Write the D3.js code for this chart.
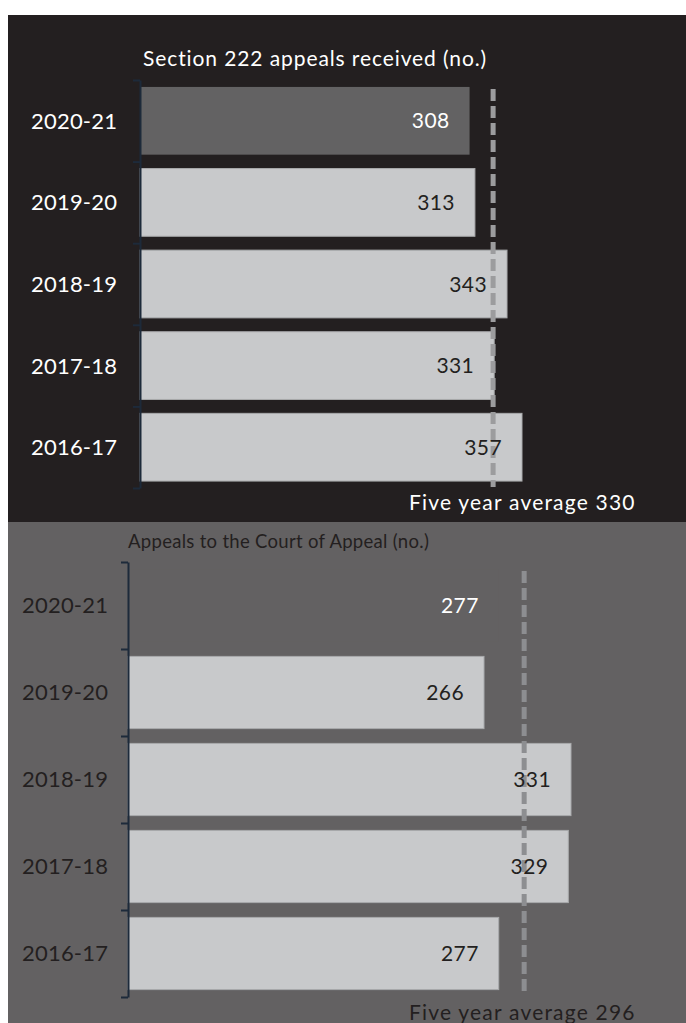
<!DOCTYPE html>
<html>
<head>
<meta charset="utf-8">
<script src="https://cdn.jsdelivr.net/npm/d3@7"></script>
<style>
  html, body { margin: 0; padding: 0; background: #ffffff; }
  svg { display: block; }
  text { font-family: Lato, "Noto Sans", sans-serif; }
</style>
</head>
<body>
<svg id="chart" width="686" height="1023"></svg>
<script>
// Financial years, most recent first
const years = ["2020-21", "2019-20", "2018-19", "2017-18", "2016-17"];
// Section 222 appeals received (no.)
const section222 = [308, 313, 343, 331, 357];
// Appeals to the Court of Appeal (no.)
const courtOfAppeal = [277, 266, 331, 329, 277];
// Five year averages for each panel
const averages = [330, 296];
const titles = ["Section 222 appeals received (no.)", "Appeals to the Court of Appeal (no.)"];

const svg = d3.select("#chart");

const panels = [
  {
    values: section222, avg: averages[0], title: titles[0],
    box: [8, 15, 678, 507],
    bg: "#231f20", firstBar: "#636263", bar: "#c8c9cb",
    yearColor: "#ffffff", titleColor: "#ffffff", avgColor: "#ffffff",
    firstValueColor: "#ffffff", valueColor: "#231f20",
    dashColor: "#9c9c9e",
    xRange: [140, 522], yRange: [80, 488], yearX: 31,
    titleX: 143, titleY: 66, titleSize: 21, titleSpacing: 0.9, avgY: 510
  },
  {
    values: courtOfAppeal, avg: averages[1], title: titles[1],
    box: [8, 522, 678, 501],
    bg: "#636162", firstBar: "#636162", bar: "#c8c9cb",
    yearColor: "#231f20", titleColor: "#231f20", avgColor: "#231f20",
    firstValueColor: "#ffffff", valueColor: "#231f20",
    dashColor: "#8d8e91",
    xRange: [128, 571], yRange: [562, 997], yearX: 22,
    titleX: 128, titleY: 548, titleSize: 18.5, titleSpacing: 0.3, avgY: 1020
  }
];

panels.forEach(p => {
  const g = svg.append("g");
  g.append("rect")
    .attr("x", p.box[0]).attr("y", p.box[1])
    .attr("width", p.box[2]).attr("height", p.box[3])
    .attr("fill", p.bg);

  const x = d3.scaleLinear().domain([0, d3.max(p.values)]).range(p.xRange);
  const y = d3.scaleBand().domain(years).range(p.yRange)
    .paddingInner(0.17).paddingOuter(0.085);

  // bars
  g.selectAll("rect.bar").data(p.values).join("rect")
    .attr("class", "bar")
    .attr("x", x(0))
    .attr("y", (d, i) => y(years[i]))
    .attr("width", d => x(d) - x(0))
    .attr("height", y.bandwidth())
    .attr("fill", (d, i) => i === 0 ? p.firstBar : p.bar)
    .attr("stroke", (d, i) => i === 0 ? "none" : "#a9aaac")
    .attr("stroke-width", 1);

  // axis with ticks on the band boundaries
  const edges = d3.scaleLinear().domain([0, years.length]).range(p.yRange);
  const axis = d3.axisLeft(edges).ticks(years.length).tickFormat("")
    .tickSize(7).tickSizeOuter(0);
  const ag = g.append("g").attr("transform", `translate(${x(0)},0)`).call(axis);
  ag.select(".domain").attr("stroke", "#1d2a3a").attr("stroke-width", 2);
  ag.selectAll(".tick line").attr("stroke", "#1d2a3a").attr("stroke-width", 2);

  // year labels
  g.selectAll("text.year").data(years).join("text")
    .attr("class", "year")
    .attr("x", p.yearX)
    .attr("y", d => y(d) + y.bandwidth() / 2)
    .attr("dy", "0.36em")
    .attr("font-size", 22)
    .attr("letter-spacing", 0.2)
    .attr("fill", p.yearColor)
    .text(d => d);

  // average line
  g.append("line")
    .attr("x1", x(p.avg)).attr("x2", x(p.avg))
    .attr("y1", p.yRange[0] + 9).attr("y2", p.yRange[1] - 1)
    .attr("stroke", p.dashColor).attr("stroke-width", 5)
    .attr("stroke-dasharray", "12,5");

  // value labels
  g.selectAll("text.value").data(p.values).join("text")
    .attr("class", "value")
    .attr("x", d => x(d) - 20)
    .attr("y", (d, i) => y(years[i]) + y.bandwidth() / 2)
    .attr("dy", "0.36em")
    .attr("text-anchor", "end")
    .attr("font-size", 21)
    .attr("letter-spacing", 0.4)
    .attr("fill", (d, i) => i === 0 ? p.firstValueColor : p.valueColor)
    .text(d => d);

  // title
  g.append("text")
    .attr("x", p.titleX).attr("y", p.titleY)
    .attr("font-size", p.titleSize)
    .attr("letter-spacing", p.titleSpacing)
    .attr("fill", p.titleColor)
    .text(p.title);

  // average label
  g.append("text")
    .attr("x", 409).attr("y", p.avgY)
    .attr("font-size", 21)
    .attr("letter-spacing", 1.2)
    .attr("fill", p.avgColor)
    .text("Five year average " + p.avg);
});
</script>
</body>
</html>
